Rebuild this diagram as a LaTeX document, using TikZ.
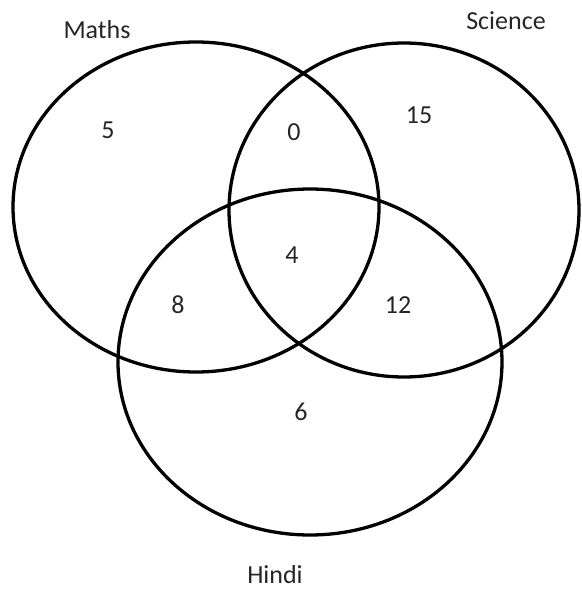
\documentclass[tikz,border=0pt]{standalone}
\usepackage{fontspec}
\setmainfont{Carlito}
\begin{document}
\begin{tikzpicture}[x=1pt,y=-1pt,
  setcircle/.style={line width=3.3pt,draw=black},
  lbl/.style={font=\fontsize{26}{30}\selectfont,anchor=base,inner sep=0pt,text=black!85}]
\useasboundingbox (0,0) rectangle (581,589);
\draw[setcircle] (196,207) ellipse [x radius=183, y radius=165];
\draw[setcircle] (404,210) ellipse [x radius=175, y radius=167];
\draw[setcircle] (310,362) ellipse [x radius=192, y radius=173];
\node[lbl] (maths) at (97,38) {Maths};
\node[lbl] (science) at (506,29) {Science};
\node[lbl] (hindi) at (275,583) {Hindi};
\node[lbl] (m) at (108,138) {5};
\node[lbl] (ms) at (294,140) {0};
\node[lbl] (s) at (419,123) {15};
\node[lbl] (msh) at (292,263) {4};
\node[lbl] (mh) at (178,313) {8};
\node[lbl] (sh) at (398,313) {12};
\node[lbl] (h) at (301,420) {6};
\end{tikzpicture}
\end{document}
